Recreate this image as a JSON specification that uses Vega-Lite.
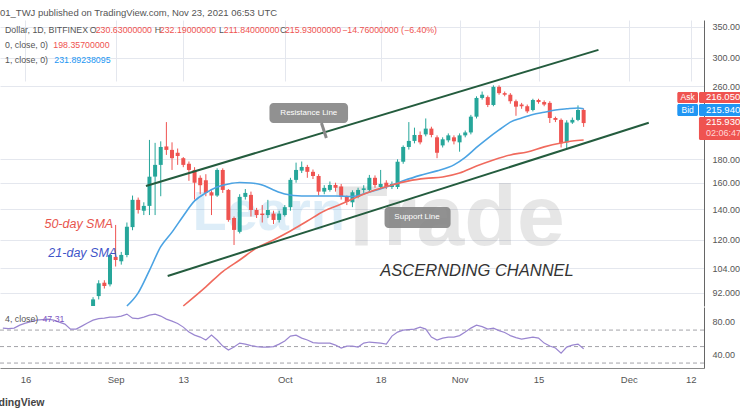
{
"$schema": "https://vega.github.io/schema/vega-lite/v6.json",
"width": 704, "height": 348,
"autosize": {"type": "none"},
"padding": {"left": 0, "top": 20, "right": 36, "bottom": 48},
"background": "white",
"config": {"view": {"stroke": null}, "font": "Liberation Sans",
 "axisX": {"ticks": false, "labelPadding": 6, "labelFontSize": 9.5, "labelColor": "#555", "grid": true, "gridColor": "#e4e7ee", "domainColor": "#8a8a8a", "labelFlush": false, "labelOverlap": false}},
"title": {"text": "01_TWJ published on TradingView.com, Nov 23, 2021 06:53 UTC", "anchor": "start", "frame": "group", "fontSize": 9.5, "fontWeight": "normal", "color": "#555", "offset": 3, "font": "Liberation Sans"},
"datasets": {
"candles": [
{"d":"2021-08-28","o":83,"h":90,"l":82,"c":89},
{"d":"2021-08-29","o":90.5,"h":98,"l":89,"c":96.5},
{"d":"2021-08-30","o":96.8,"h":98,"l":94,"c":95.2},
{"d":"2021-08-31","o":96,"h":112,"l":95,"c":111.3},
{"d":"2021-09-01","o":110.2,"h":129.4,"l":105,"c":108.5},
{"d":"2021-09-02","o":107.8,"h":113,"l":106,"c":111.3},
{"d":"2021-09-03","o":111.3,"h":131,"l":110,"c":128.2},
{"d":"2021-09-04","o":128,"h":150,"l":126,"c":146.8},
{"d":"2021-09-05","o":146.8,"h":148.5,"l":137,"c":139.5},
{"d":"2021-09-06","o":139,"h":145,"l":136,"c":142.4},
{"d":"2021-09-07","o":142.4,"h":198.4,"l":136,"c":164.9},
{"d":"2021-09-08","o":165,"h":195.5,"l":136,"c":175},
{"d":"2021-09-09","o":175,"h":197,"l":149.5,"c":191.5},
{"d":"2021-09-10","o":192,"h":217,"l":184,"c":188.7},
{"d":"2021-09-11","o":188.7,"h":196,"l":170.6,"c":181},
{"d":"2021-09-12","o":186,"h":190,"l":175,"c":183},
{"d":"2021-09-13","o":181,"h":182,"l":173,"c":175},
{"d":"2021-09-14","o":176,"h":178,"l":161.5,"c":170.6},
{"d":"2021-09-15","o":170.6,"h":173,"l":147,"c":160},
{"d":"2021-09-16","o":164,"h":166,"l":151,"c":158},
{"d":"2021-09-17","o":162,"h":167,"l":149.5,"c":152},
{"d":"2021-09-18","o":152.5,"h":154,"l":136,"c":150},
{"d":"2021-09-19","o":150,"h":172,"l":149,"c":170.6},
{"d":"2021-09-20","o":170.6,"h":172,"l":152,"c":154.3},
{"d":"2021-09-21","o":154.3,"h":155,"l":131.5,"c":132.7},
{"d":"2021-09-22","o":134,"h":135,"l":117,"c":126.2},
{"d":"2021-09-23","o":125,"h":151,"l":124,"c":149},
{"d":"2021-09-24","o":149,"h":155,"l":147,"c":152},
{"d":"2021-09-25","o":150.5,"h":153,"l":135,"c":139.5},
{"d":"2021-09-26","o":139.5,"h":141,"l":134,"c":136},
{"d":"2021-09-27","o":137,"h":143,"l":131,"c":136},
{"d":"2021-09-28","o":136,"h":146.8,"l":134,"c":139.5},
{"d":"2021-09-29","o":137,"h":139,"l":130,"c":132.7},
{"d":"2021-09-30","o":132.7,"h":139,"l":131,"c":137},
{"d":"2021-10-01","o":136,"h":143,"l":135,"c":141.5},
{"d":"2021-10-02","o":141.5,"h":164,"l":139,"c":162.3},
{"d":"2021-10-03","o":162.3,"h":177,"l":160,"c":170.6},
{"d":"2021-10-04","o":170,"h":178,"l":168,"c":173.2},
{"d":"2021-10-05","o":173.2,"h":175,"l":164,"c":169},
{"d":"2021-10-06","o":169,"h":171,"l":163,"c":165.5},
{"d":"2021-10-07","o":165.5,"h":167,"l":150,"c":153},
{"d":"2021-10-08","o":153,"h":158,"l":151,"c":155.9},
{"d":"2021-10-09","o":154.3,"h":161,"l":153,"c":158.2},
{"d":"2021-10-10","o":158.2,"h":160,"l":153,"c":156},
{"d":"2021-10-11","o":157,"h":159,"l":147,"c":149},
{"d":"2021-10-12","o":149,"h":150,"l":143,"c":145.3},
{"d":"2021-10-13","o":145,"h":154,"l":141.5,"c":152.5},
{"d":"2021-10-14","o":149,"h":156,"l":148,"c":154.3},
{"d":"2021-10-15","o":154.3,"h":158,"l":152,"c":155.5},
{"d":"2021-10-16","o":154.3,"h":166.4,"l":153,"c":164},
{"d":"2021-10-17","o":164,"h":166,"l":156,"c":158.2},
{"d":"2021-10-18","o":156.6,"h":170.6,"l":155,"c":159},
{"d":"2021-10-19","o":160,"h":162,"l":155,"c":156.6},
{"d":"2021-10-20","o":156.6,"h":161,"l":155,"c":159},
{"d":"2021-10-21","o":156.6,"h":180,"l":155,"c":177.8},
{"d":"2021-10-22","o":177.8,"h":193,"l":176,"c":191.5},
{"d":"2021-10-23","o":191.5,"h":217,"l":189,"c":197.4},
{"d":"2021-10-24","o":197.4,"h":211,"l":195,"c":203.4},
{"d":"2021-10-25","o":203.4,"h":207,"l":194,"c":196},
{"d":"2021-10-26","o":204,"h":221,"l":202,"c":210},
{"d":"2021-10-27","o":210,"h":212,"l":201,"c":203.4},
{"d":"2021-10-28","o":201,"h":203,"l":181,"c":186},
{"d":"2021-10-29","o":193,"h":201,"l":191,"c":199},
{"d":"2021-10-30","o":198,"h":205,"l":196,"c":203},
{"d":"2021-10-31","o":201,"h":203,"l":194,"c":197},
{"d":"2021-11-01","o":196,"h":205,"l":187,"c":203},
{"d":"2021-11-02","o":203,"h":208,"l":201,"c":206},
{"d":"2021-11-03","o":206,"h":225,"l":204,"c":223},
{"d":"2021-11-04","o":223,"h":247,"l":221,"c":245},
{"d":"2021-11-05","o":245,"h":253,"l":243,"c":249},
{"d":"2021-11-06","o":246,"h":248,"l":234,"c":236.5},
{"d":"2021-11-07","o":236.5,"h":261,"l":235,"c":259},
{"d":"2021-11-08","o":259,"h":261,"l":249,"c":251},
{"d":"2021-11-09","o":251,"h":253,"l":247,"c":249},
{"d":"2021-11-10","o":249,"h":251,"l":238,"c":241},
{"d":"2021-11-11","o":241,"h":243,"l":224,"c":234.5},
{"d":"2021-11-12","o":237,"h":239,"l":232,"c":235},
{"d":"2021-11-13","o":235,"h":237,"l":227,"c":229},
{"d":"2021-11-14","o":230.6,"h":244,"l":229,"c":242.5},
{"d":"2021-11-15","o":242.5,"h":244,"l":238,"c":240},
{"d":"2021-11-16","o":240,"h":242,"l":235,"c":237},
{"d":"2021-11-17","o":239,"h":241,"l":216,"c":221.5},
{"d":"2021-11-18","o":221.5,"h":223,"l":217,"c":219.4},
{"d":"2021-11-19","o":219.4,"h":221,"l":191,"c":195},
{"d":"2021-11-20","o":196,"h":219,"l":189,"c":216.5},
{"d":"2021-11-21","o":216.5,"h":222,"l":215,"c":219.4},
{"d":"2021-11-22","o":219.4,"h":236,"l":218,"c":230.6},
{"d":"2021-11-23","o":230.63,"h":232.19,"l":211.84,"c":215.93}
],
"sma21": [
{"d":"2021-09-03","v":85},{"d":"2021-09-05","v":92},{"d":"2021-09-07","v":103},{"d":"2021-09-09","v":116},
{"d":"2021-09-11","v":124.8},{"d":"2021-09-13","v":135.4},{"d":"2021-09-15","v":146},{"d":"2021-09-17","v":152},
{"d":"2021-09-19","v":156.6},{"d":"2021-09-21","v":159},{"d":"2021-09-23","v":160.2},{"d":"2021-09-25","v":159.8},
{"d":"2021-09-27","v":158.2},{"d":"2021-09-29","v":154.3},{"d":"2021-10-01","v":151.2},{"d":"2021-10-04","v":149.7},
{"d":"2021-10-07","v":149.7},{"d":"2021-10-10","v":149.7},{"d":"2021-10-13","v":149.3},{"d":"2021-10-16","v":152.7},
{"d":"2021-10-19","v":156.6},{"d":"2021-10-22","v":161.5},{"d":"2021-10-25","v":166},{"d":"2021-10-28","v":169.8},
{"d":"2021-10-31","v":175},{"d":"2021-11-02","v":181.8},{"d":"2021-11-04","v":191},{"d":"2021-11-06","v":200},
{"d":"2021-11-08","v":208.6},{"d":"2021-11-10","v":217},{"d":"2021-11-12","v":221.5},{"d":"2021-11-14","v":225.5},
{"d":"2021-11-16","v":228},{"d":"2021-11-18","v":230.6},{"d":"2021-11-20","v":232},{"d":"2021-11-22","v":233},
{"d":"2021-11-23","v":231.89}
],
"sma50": [
{"d":"2021-09-13","v":85},{"d":"2021-09-17","v":94.8},{"d":"2021-09-20","v":102.4},{"d":"2021-09-23","v":108.5},
{"d":"2021-09-26","v":115.2},{"d":"2021-09-29","v":120},{"d":"2021-10-02","v":125.5},{"d":"2021-10-05","v":132},
{"d":"2021-10-08","v":138.8},{"d":"2021-10-11","v":143.7},{"d":"2021-10-14","v":149.3},{"d":"2021-10-17","v":154.3},
{"d":"2021-10-20","v":158.2},{"d":"2021-10-23","v":161.5},{"d":"2021-10-26","v":163.5},{"d":"2021-10-29","v":164.7},
{"d":"2021-11-01","v":168},{"d":"2021-11-04","v":174},{"d":"2021-11-07","v":179.4},{"d":"2021-11-10","v":184},
{"d":"2021-11-13","v":186.8},{"d":"2021-11-16","v":191.6},{"d":"2021-11-19","v":195.4},{"d":"2021-11-21","v":197.4},
{"d":"2021-11-23","v":198.357}
],
"rsi": [
{"d":"2021-08-12","v":72.4},{"d":"2021-08-13","v":71.8},{"d":"2021-08-14","v":72.4},{"d":"2021-08-15","v":76},
{"d":"2021-08-16","v":78.5},{"d":"2021-08-17","v":80.3},{"d":"2021-08-18","v":82.1},{"d":"2021-08-19","v":82.7},
{"d":"2021-08-20","v":83.3},{"d":"2021-08-21","v":82.1},{"d":"2021-08-22","v":79.7},{"d":"2021-08-23","v":77.3},
{"d":"2021-08-24","v":71.2},{"d":"2021-08-25","v":71.2},{"d":"2021-08-26","v":74.8},{"d":"2021-08-27","v":78.5},
{"d":"2021-08-28","v":82.1},{"d":"2021-08-29","v":83.9},{"d":"2021-08-30","v":84.5},{"d":"2021-08-31","v":85.8},
{"d":"2021-09-01","v":85.8},{"d":"2021-09-02","v":87},{"d":"2021-09-03","v":89.4},{"d":"2021-09-04","v":84.5},
{"d":"2021-09-05","v":83.9},{"d":"2021-09-06","v":85.8},{"d":"2021-09-07","v":88.2},{"d":"2021-09-08","v":89.4},
{"d":"2021-09-09","v":87},{"d":"2021-09-10","v":83.3},{"d":"2021-09-11","v":80.9},{"d":"2021-09-12","v":77.9},
{"d":"2021-09-13","v":73.6},{"d":"2021-09-14","v":67.6},{"d":"2021-09-15","v":63.9},{"d":"2021-09-16","v":61.5},
{"d":"2021-09-17","v":57.9},{"d":"2021-09-18","v":63.9},{"d":"2021-09-19","v":57.9},{"d":"2021-09-20","v":50.6},
{"d":"2021-09-21","v":45.8},{"d":"2021-09-22","v":49.4},{"d":"2021-09-23","v":54.2},{"d":"2021-09-24","v":53},
{"d":"2021-09-25","v":51.2},{"d":"2021-09-26","v":50},{"d":"2021-09-27","v":49.4},{"d":"2021-09-28","v":49.4},
{"d":"2021-09-29","v":50},{"d":"2021-09-30","v":53},{"d":"2021-10-01","v":56.7},{"d":"2021-10-02","v":62.7},
{"d":"2021-10-03","v":63.9},{"d":"2021-10-04","v":60.3},{"d":"2021-10-05","v":57.9},{"d":"2021-10-06","v":54.8},
{"d":"2021-10-07","v":54.2},{"d":"2021-10-08","v":54.2},{"d":"2021-10-09","v":54.2},{"d":"2021-10-10","v":51.8},
{"d":"2021-10-11","v":48.2},{"d":"2021-10-12","v":50.6},{"d":"2021-10-13","v":50.6},{"d":"2021-10-14","v":49.4},
{"d":"2021-10-15","v":54.2},{"d":"2021-10-16","v":55.5},{"d":"2021-10-17","v":54.8},{"d":"2021-10-18","v":54.2},
{"d":"2021-10-19","v":53},{"d":"2021-10-20","v":62.7},{"d":"2021-10-21","v":67.6},{"d":"2021-10-22","v":70},
{"d":"2021-10-23","v":70.6},{"d":"2021-10-24","v":71.2},{"d":"2021-10-25","v":73.6},{"d":"2021-10-26","v":71.2},
{"d":"2021-10-27","v":61.5},{"d":"2021-10-28","v":57.9},{"d":"2021-10-29","v":60.3},{"d":"2021-10-30","v":61.5},
{"d":"2021-10-31","v":61.5},{"d":"2021-11-01","v":63.3},{"d":"2021-11-02","v":67.6},{"d":"2021-11-03","v":72.4},
{"d":"2021-11-04","v":76},{"d":"2021-11-05","v":74.2},{"d":"2021-11-06","v":71.2},{"d":"2021-11-07","v":72.4},
{"d":"2021-11-08","v":69.4},{"d":"2021-11-09","v":67},{"d":"2021-11-10","v":63.3},{"d":"2021-11-11","v":60.9},
{"d":"2021-11-12","v":59.1},{"d":"2021-11-13","v":60.3},{"d":"2021-11-14","v":61.5},{"d":"2021-11-15","v":60.3},
{"d":"2021-11-16","v":54.2},{"d":"2021-11-17","v":50.6},{"d":"2021-11-18","v":48.2},{"d":"2021-11-19","v":42},
{"d":"2021-11-20","v":49.4},{"d":"2021-11-21","v":51.8},{"d":"2021-11-22","v":53},{"d":"2021-11-23","v":47.31}
]
},
"layer": [
{"data": {"name":"rsi"},
 "mark": {"type":"line","color":"#9a86d0","strokeWidth":1.2,"opacity":0},
 "encoding": {"x": {"field":"d","type":"temporal","title":null,"scale":{"type":"utc","domain":[{"year":2021,"month":8,"date":12,"hours":9,"minutes":7,"utc":true},{"year":2021,"month":12,"date":13,"hours":11,"minutes":2,"utc":true}]},
   "axis": {"values":[{"year":2021,"month":8,"date":16,"utc":true},{"year":2021,"month":9,"date":1,"utc":true},{"year":2021,"month":9,"date":13,"utc":true},{"year":2021,"month":10,"date":1,"utc":true},{"year":2021,"month":10,"date":18,"utc":true},{"year":2021,"month":11,"date":1,"utc":true},{"year":2021,"month":11,"date":15,"utc":true},{"year":2021,"month":12,"date":1,"utc":true},{"year":2021,"month":12,"date":12,"utc":true}],
    "labelExpr":"utcdate(datum.value) == 1 ? utcFormat(datum.value, '%b') : utcFormat(datum.value, '%-d')",
    "title":null,"ticks":false,"labelPadding":6,"labelFontSize":9.5,"labelColor":"#555","grid":true,"gridColor":"#e4e7ee","domainColor":"#8a8a8a","labelFlush":false,"labelOverlap":false}},
  "y": {"field":"v","type":"quantitative","scale":{"domain":[24,98],"range":[348,287],"nice":false,"zero":false},
   "axis": {"orient":"right","values":[40,80],"format":".2f","title":null,"ticks":false,"labelPadding":8,"labelFontSize":9,"labelColor":"#555","domainColor":"#666","grid":false,"labelBaseline":"middle"}}}},
{"data": {"values": [{"d":"2021-09-14T15:10:00Z","p":126.2,"t":"Learn"}]},
 "mark": {"type":"text","fontSize":56,"fontWeight":"bold","color":"#3d9bd9","opacity":0.17,"align":"left","baseline":"alphabetic"},
 "encoding": {"x": {"field":"d","type":"temporal","title":null},
  "y": {"field":"p","type":"quantitative","scale":{"type":"log","domain":[86.1,362.5],"range":[286,0],"nice":false,"clamp":true},
   "axis": {"orient":"right","values":[92,104,120,140,160,180,260,300,350],"format":".6f","title":null,"ticks":false,"labelPadding":8,"labelFontSize":9,"labelColor":"#555","domainColor":"#666","grid":true,"gridColor":"#e4e7ee","labelOverlap":false,"labelBaseline":"middle"}},
  "text": {"field":"t"}}},
{"data": {"values": [{"d":"2021-10-09T22:50:00Z","p":117.0,"t":"Trade"}]},
 "mark": {"type":"text","fontSize":86,"fontWeight":"bold","color":"#555","opacity":0.14,"align":"left","baseline":"alphabetic"},
 "encoding": {"x": {"field":"d","type":"temporal","title":null},
  "y": {"field":"p","type":"quantitative","scale":{"type":"log","domain":[86.1,362.5],"range":[286,0],"nice":false,"clamp":true},"axis":null},
  "text": {"field":"t"}}},
{"mark": {"type":"rule","color":"#ef5350","opacity":0.6,"strokeDash":[1,2]},
 "encoding": {"y": {"datum":215.93,"type":"quantitative","scale":{"type":"log","domain":[86.1,362.5],"range":[286,0],"nice":false,"clamp":true},"axis":null}}},
{"data": {"name":"candles"},
 "mark": {"type":"rule","strokeWidth":1},
 "encoding": {"x": {"field":"d","type":"temporal","title":null},
  "y": {"field":"l","type":"quantitative","scale":{"type":"log","domain":[86.1,362.5],"range":[286,0],"nice":false,"clamp":true},"axis":null},
  "y2": {"field":"h"},
  "color": {"condition": {"test":"datum.c >= datum.o","value":"#26a69a"},"value":"#ef5350"}}},
{"data": {"name":"candles"},
 "mark": {"type":"bar","width":4},
 "encoding": {"x": {"field":"d","type":"temporal","title":null},
  "y": {"field":"o","type":"quantitative","scale":{"type":"log","domain":[86.1,362.5],"range":[286,0],"nice":false,"clamp":true},"axis":null},
  "y2": {"field":"c"},
  "color": {"condition": {"test":"datum.c >= datum.o","value":"#26a69a"},"value":"#ef5350"}}},
{"data": {"name":"sma21"},
 "mark": {"type":"line","color":"#4ba3e3","strokeWidth":1.6,"interpolate":"monotone"},
 "encoding": {"x": {"field":"d","type":"temporal","title":null},
  "y": {"field":"v","type":"quantitative","scale":{"type":"log","domain":[86.1,362.5],"range":[286,0],"nice":false,"clamp":true},"axis":null}}},
{"data": {"name":"sma50"},
 "mark": {"type":"line","color":"#f06a5d","strokeWidth":1.6,"interpolate":"monotone"},
 "encoding": {"x": {"field":"d","type":"temporal","title":null},
  "y": {"field":"v","type":"quantitative","scale":{"type":"log","domain":[86.1,362.5],"range":[286,0],"nice":false,"clamp":true},"axis":null}}},
{"data": {"values": [{"a":"2021-09-06T09:07:00Z","p1":157.4,"b":"2021-11-25T15:07:00Z","p2":312},{"a":"2021-09-10T05:31:00Z","p1":100.1,"b":"2021-12-04T13:12:00Z","p2":216.3}]},
 "mark": {"type":"rule","color":"#245c3e","strokeWidth":2},
 "encoding": {"x": {"field":"a","type":"temporal","title":null},
  "x2": {"field":"b"},
  "y": {"field":"p1","type":"quantitative","scale":{"type":"log","domain":[86.1,362.5],"range":[286,0],"nice":false,"clamp":true},"axis":null},
  "y2": {"field":"p2"}}},
{"data": {"values": [{"a":"2021-10-07T12:00:00Z","p1":216.1,"b":"2021-10-08T08:55:00Z","p2":200.4}]},
 "mark": {"type":"rule","color":"#8a8a8a","strokeWidth":3},
 "encoding": {"x": {"field":"a","type":"temporal","title":null},
  "x2": {"field":"b"},
  "y": {"field":"p1","type":"quantitative","scale":{"type":"log","domain":[86.1,362.5],"range":[286,0],"nice":false,"clamp":true},"axis":null},
  "y2": {"field":"p2"}}},
{"data": {"values": [{"a":"2021-09-28T06:45:00Z","b":"2021-10-12T05:15:00Z","p1":238.9,"p2":216.1},{"a":"2021-10-18T16:35:00Z","b":"2021-10-30T09:50:00Z","p1":141.6,"p2":127.5}]},
 "mark": {"type":"rect","color":"#858585","opacity":0.9,"cornerRadius":4},
 "encoding": {"x": {"field":"a","type":"temporal","title":null},
  "x2": {"field":"b"},
  "y": {"field":"p1","type":"quantitative","scale":{"type":"log","domain":[86.1,362.5],"range":[286,0],"nice":false,"clamp":true},"axis":null},
  "y2": {"field":"p2"}}},
{"data": {"values": [{"d":"2021-10-05T06:15:00Z","p":227.2,"t":"Resistance Line"},{"d":"2021-10-24T11:00:00Z","p":134.4,"t":"Support Line"}]},
 "mark": {"type":"text","fontSize":8,"color":"white","align":"center","baseline":"middle"},
 "encoding": {"x": {"field":"d","type":"temporal","title":null},
  "y": {"field":"p","type":"quantitative","scale":{"type":"log","domain":[86.1,362.5],"range":[286,0],"nice":false,"clamp":true},"axis":null},
  "text": {"field":"t"}}},
{"data": {"values": [{"d":"2021-11-04T02:25:00Z","p":102.7,"t":"ASCERNDING CHANNEL"}]},
 "mark": {"type":"text","fontSize":16.5,"fontStyle":"italic","color":"#333","align":"center","baseline":"middle"},
 "encoding": {"x": {"field":"d","type":"temporal","title":null},
  "y": {"field":"p","type":"quantitative","scale":{"type":"log","domain":[86.1,362.5],"range":[286,0],"nice":false,"clamp":true},"axis":null},
  "text": {"field":"t"}}},
{"data": {"values": [{"d":"2021-08-19T08:55:00Z","p":130.0,"t":"50-day SMA"}]},
 "mark": {"type":"text","fontSize":12.5,"fontStyle":"italic","color":"#e8554e","align":"left","baseline":"middle"},
 "encoding": {"x": {"field":"d","type":"temporal","title":null},
  "y": {"field":"p","type":"quantitative","scale":{"type":"log","domain":[86.1,362.5],"range":[286,0],"nice":false,"clamp":true},"axis":null},
  "text": {"field":"t"}}},
{"data": {"values": [{"d":"2021-08-20T01:40:00Z","p":112.4,"t":"21-day SMA"}]},
 "mark": {"type":"text","fontSize":12.5,"fontStyle":"italic","color":"#3f56c9","align":"left","baseline":"middle"},
 "encoding": {"x": {"field":"d","type":"temporal","title":null},
  "y": {"field":"p","type":"quantitative","scale":{"type":"log","domain":[86.1,362.5],"range":[286,0],"nice":false,"clamp":true},"axis":null},
  "text": {"field":"t"}}},
{"data": {"values": [{"d":"2021-08-12T09:07:00Z","p":344.8,"t":"Dollar, 1D, BITFINEX"},{"d":"2021-08-27T10:05:00Z","p":344.8,"t":"O"},{"d":"2021-09-07T22:48:00Z","p":344.8,"t":"H"},{"d":"2021-09-19T07:41:00Z","p":344.8,"t":"L"},{"d":"2021-09-30T03:50:00Z","p":344.8,"t":"C"},{"d":"2021-08-12T09:07:00Z","p":319.8,"t":"0, close, 0)"},{"d":"2021-08-12T09:07:00Z","p":296.6,"t":"1, close, 0)"}]},
 "mark": {"type":"text","fontSize":8.8,"color":"#555","align":"left","baseline":"middle"},
 "encoding": {"x": {"field":"d","type":"temporal","title":null},
  "y": {"field":"p","type":"quantitative","scale":{"type":"log","domain":[86.1,362.5],"range":[286,0],"nice":false,"clamp":true},"axis":null},
  "text": {"field":"t"}}},
{"data": {"values": [{"d":"2021-08-28T11:17:00Z","p":344.8,"t":"230.63000000"},{"d":"2021-09-08T19:55:00Z","p":344.8,"t":"232.19000000"},{"d":"2021-09-20T04:34:00Z","p":344.8,"t":"211.84000000"},{"d":"2021-10-01T00:43:00Z","p":344.8,"t":"215.93000000"},{"d":"2021-10-11T04:05:00Z","p":344.8,"t":"−14.76000000 (−6.40%)"},{"d":"2021-08-20T22:48:00Z","p":319.8,"t":"198.35700000"}]},
 "mark": {"type":"text","fontSize":8.8,"color":"#ef5350","align":"left","baseline":"middle"},
 "encoding": {"x": {"field":"d","type":"temporal","title":null},
  "y": {"field":"p","type":"quantitative","scale":{"type":"log","domain":[86.1,362.5],"range":[286,0],"nice":false,"clamp":true},"axis":null},
  "text": {"field":"t"}}},
{"data": {"values": [{"d":"2021-08-21T02:53:00Z","p":296.6,"t":"231.89238095"}]},
 "mark": {"type":"text","fontSize":8.8,"color":"#2196f3","align":"left","baseline":"middle"},
 "encoding": {"x": {"field":"d","type":"temporal","title":null},
  "y": {"field":"p","type":"quantitative","scale":{"type":"log","domain":[86.1,362.5],"range":[286,0],"nice":false,"clamp":true},"axis":null},
  "text": {"field":"t"}}},
{"data": {"values": [{"a":"2021-12-09T14:40:00Z","b":"2021-12-13T06:45:00Z","p1":252.5,"p2":238.9,"k":"ask"},{"a":"2021-12-13T10:50:00Z","b":"2021-12-26T00:00:00Z","p1":252.5,"p2":238.9,"k":"ask"},{"a":"2021-12-09T14:40:00Z","b":"2021-12-13T06:45:00Z","p1":237.7,"p2":223.8,"k":"bid"},{"a":"2021-12-13T10:50:00Z","b":"2021-12-26T00:00:00Z","p1":237.7,"p2":223.8,"k":"bid"},{"a":"2021-12-13T10:50:00Z","b":"2021-12-26T00:00:00Z","p1":222.7,"p2":198.4,"k":"ask"}]},
 "mark": {"type":"rect","cornerRadius":1.5},
 "encoding": {"x": {"field":"a","type":"temporal","title":null},
  "x2": {"field":"b"},
  "y": {"field":"p1","type":"quantitative","scale":{"type":"log","domain":[86.1,362.5],"range":[286,0],"nice":false,"clamp":true},"axis":null},
  "y2": {"field":"p2"},
  "color": {"field":"k","type":"nominal","scale":{"domain":["ask","bid"],"range":["#ef5350","#2196f3"]},"legend":null}}},
{"data": {"values": [{"d":"2021-12-11T10:50:00Z","p":245.6,"t":"Ask"},{"d":"2021-12-11T10:50:00Z","p":230.6,"t":"Bid"}]},
 "mark": {"type":"text","fontSize":8.5,"color":"white","align":"center","baseline":"middle"},
 "encoding": {"x": {"field":"d","type":"temporal","title":null},
  "y": {"field":"p","type":"quantitative","scale":{"type":"log","domain":[86.1,362.5],"range":[286,0],"nice":false,"clamp":true},"axis":null},
  "text": {"field":"t"}}},
{"data": {"values": [{"d":"2021-12-14T16:20:00Z","p":245.6,"t":"216.050000"},{"d":"2021-12-14T16:20:00Z","p":230.6,"t":"215.940000"},{"d":"2021-12-14T16:20:00Z","p":216.6,"t":"215.930000"}]},
 "mark": {"type":"text","fontSize":9.5,"color":"white","align":"left","baseline":"middle"},
 "encoding": {"x": {"field":"d","type":"temporal","title":null},
  "y": {"field":"p","type":"quantitative","scale":{"type":"log","domain":[86.1,362.5],"range":[286,0],"nice":false,"clamp":true},"axis":null},
  "text": {"field":"t"}}},
{"data": {"values": [{"d":"2021-12-14T16:20:00Z","p":205.0,"t":"02:06:47"}]},
 "mark": {"type":"text","fontSize":9,"color":"#ffd6d6","align":"left","baseline":"middle"},
 "encoding": {"x": {"field":"d","type":"temporal","title":null},
  "y": {"field":"p","type":"quantitative","scale":{"type":"log","domain":[86.1,362.5],"range":[286,0],"nice":false,"clamp":true},"axis":null},
  "text": {"field":"t"}}},
{"mark": {"type":"rect","color":"#7e57c2","opacity":0.09},
 "encoding": {"y": {"datum":70,"type":"quantitative","scale":{"domain":[24,98],"range":[348,287],"nice":false,"zero":false},"axis":null},"y2": {"datum":30}}},
{"data": {"values": [{"v":70},{"v":50},{"v":30}]},
 "mark": {"type":"rule","color":"#8c8c94","strokeDash":[4,3],"strokeWidth":1,"opacity":0.8},
 "encoding": {"y": {"field":"v","type":"quantitative","scale":{"domain":[24,98],"range":[348,287],"nice":false,"zero":false},"axis":null}}},
{"mark": {"type":"rule","color":"#a0a0a0","strokeWidth":2},
 "encoding": {"y": {"datum":98,"type":"quantitative","scale":{"domain":[24,98],"range":[348,287],"nice":false,"zero":false},"axis":null}}},
{"data": {"name":"rsi"},
 "mark": {"type":"line","color":"#9a86d0","strokeWidth":1.2},
 "encoding": {"x": {"field":"d","type":"temporal","title":null},
  "y": {"field":"v","type":"quantitative","scale":{"domain":[24,98],"range":[348,287],"nice":false,"zero":false},"axis":null}}},
{"data": {"values": [{"d":"2021-08-12T09:07:00Z","v":83.3,"t":"4, close)"}]},
 "mark": {"type":"text","fontSize":8.8,"color":"#555","align":"left","baseline":"middle"},
 "encoding": {"x": {"field":"d","type":"temporal","title":null},
  "y": {"field":"v","type":"quantitative","scale":{"domain":[24,98],"range":[348,287],"nice":false,"zero":false},"axis":null},
  "text": {"field":"t"}}},
{"data": {"values": [{"d":"2021-08-19T00:29:00Z","v":83.3,"t":"47.31"}]},
 "mark": {"type":"text","fontSize":8.8,"color":"#7e57c2","align":"left","baseline":"middle"},
 "encoding": {"x": {"field":"d","type":"temporal","title":null},
  "y": {"field":"v","type":"quantitative","scale":{"domain":[24,98],"range":[348,287],"nice":false,"zero":false},"axis":null},
  "text": {"field":"t"}}},
{"data": {"values": [{"d":"2021-08-19T08:55:00Z","v":-18.5,"t":"TradingView"}]},
 "mark": {"type":"text","fontSize":10.5,"fontWeight":"bold","color":"#444","align":"right","baseline":"middle"},
 "encoding": {"x": {"field":"d","type":"temporal","title":null},
  "y": {"field":"v","type":"quantitative","scale":{"domain":[24,98],"range":[348,287],"nice":false,"zero":false},"axis":null},
  "text": {"field":"t"}}}
],
"resolve": {"scale": {"y": "independent"}, "axis": {"y": "independent"}}
}
